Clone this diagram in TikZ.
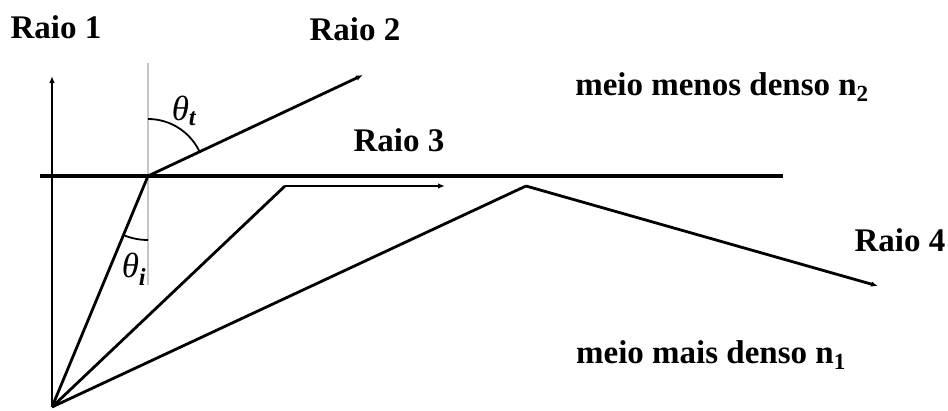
\documentclass[tikz,border=0pt]{standalone}
\usepackage{fontspec}
\setmainfont{Liberation Serif}
\usetikzlibrary{arrows,arrows.meta}
\usetikzlibrary{positioning}

\begin{document}
\begin{tikzpicture}
	[x=1pt,y=-1pt,every node/.style={font=\fontsize{33}{35}\selectfont\bfseries},
	ray/.style={line width=2.8pt,-{Latex[length=7pt,width=5.5pt]}},angmark/.style={line width=1.8pt}]
	\useasboundingbox (0,0) rectangle (948,410);
	% points
	\coordinate (src) at (52,407);
	\coordinate (top1) at (52,76);
	\coordinate (ip) at (148,176);
	\coordinate (nt) at (148,63);
	\coordinate (nb) at (148,285);
	\coordinate (end2) at (363,75);
	\coordinate (c3) at (285,186);
	\coordinate (end3) at (445,186);
	\coordinate (c4) at (526,186);
	\coordinate (end4) at (878,286);
	\coordinate (sl) at (40,176);
	\coordinate (sr) at (783,176);
	% normal and interface
	\draw[gray!45,line width=1.8pt] (nt) -- (nb);
	\draw[line width=3.8pt] (sl) -- (sr);
	% rays
	\draw[ray,line width=2.2pt] (src) -- (top1);
	\foreach \to in {ip, c3, c4}
	\draw[line width=2.8pt] (src) -- (\to);
	\draw[ray] (ip) -- (end2);
	\draw[ray] (c3) -- (end3);
	\draw[ray] (c4) -- (end4);
	% angles
	\draw[angmark] ([shift={(90:57pt)}]ip) arc[start angle=90,end angle=25,radius=57pt];
	\draw[angmark] ([shift={(270:64pt)}]ip) arc[start angle=270,end angle=247.4,radius=64pt];
	\node[font=\fontsize{35}{37}\selectfont\itshape] (thetat) at (184,111) {θ\textsubscript{\bfseries t}};
	\node[font=\fontsize{35}{37}\selectfont\itshape] (thetai) at (134,269) {θ\textsubscript{\bfseries i}};
	% labels
	\node (r1) at (56,27) {Raio 1};
	\node (r2) at (355,29) {Raio 2};
	\node (r3) at (399,140) {Raio 3};
	\node (r4) at (900,240) {Raio 4};
	\node (m2) at (722,87) {meio menos denso n\textsubscript{2}};
	\node (m1) at (711,355) {meio mais denso n\textsubscript{1}};
\end{tikzpicture}
\end{document}
